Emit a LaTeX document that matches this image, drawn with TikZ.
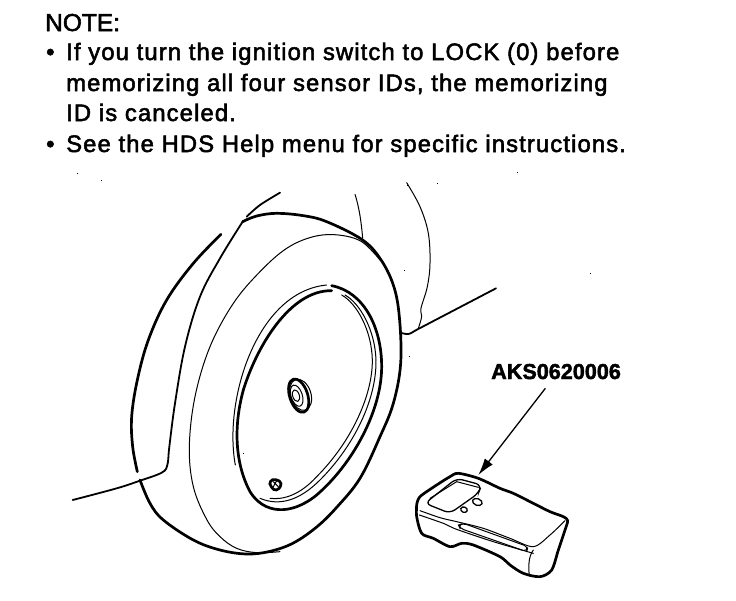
\documentclass[tikz,border=0pt]{standalone}
\usepackage{fontspec}
\setmainfont[FakeBold=2.2,LetterSpace=4.75]{Liberation Sans}
\newfontfamily\headfont[FakeBold=2.2]{Liberation Sans}
\newfontfamily\boldlabel[FakeBold=2]{Liberation Sans Bold}
\usetikzlibrary{arrows.meta}
\tikzset{
  note/.style={anchor=base west,inner sep=0pt,font=\fontsize{23.8}{26}\selectfont},
  head/.style={anchor=base west,inner sep=0pt,font=\headfont\fontsize{24.5}{26}\selectfont},
  partlabel/.style={anchor=base west,inner sep=0pt,font=\boldlabel\fontsize{21.6}{24}\selectfont},
  heavy/.style={line width=2.7pt,line join=round,line cap=round},
  medium/.style={line width=1.8pt,line join=round,line cap=round},
  fine/.style={line width=1pt,line join=round,line cap=round},
  zoomA/.style={shift={(60,170)},scale=0.33333},
  zoomB/.style={shift={(400,350)},scale=0.33333},
  speck/.style={fill=black,draw=none},
}
\begin{document}
\begin{tikzpicture}[x=1pt,y=-1pt]
\useasboundingbox (0,0) rectangle (736,600);
\fill[white] (0,0) rectangle (736,600);
% text
\node[head] (n0) at (45,31) {NOTE:};
\node[note] (b1) at (46,60) {•};
\node[note] (n1) at (66,60) {If you turn the ignition switch to LOCK (0) before};
\node[note] (n2) at (66,91) {memorizing all four sensor IDs, the memorizing};
\node[note] (n3) at (66,121) {ID is canceled.};
\node[note] (b2) at (46,152) {•};
\node[note] (n4) at (66,152) {See the HDS Help menu for specific instructions.};
\node[partlabel] (lbl) at (491,379) {AKS0620006};
% tyre
\begin{scope}[zoomA]
\draw[heavy] plot[smooth,tension=0.6] coordinates {(548,155) (590,138) (650,130) (730,137) (800,155) (905,208) (960,265) (1000,345) (1018,440) (1022,580) (1000,700) (960,800) (900,925) (831,1011) (770,1071) (700,1119) (630,1144) (560,1152) (480,1140) (400,1110) (310,1050) (270,1000) (240,930)};
\draw[heavy] plot[smooth,tension=0.6] coordinates {(483,193) (400,280) (320,390) (265,510) (232,630) (215,740) (218,830) (232,905)};
\draw[medium] plot[smooth,tension=0.6] coordinates {(38,990) (170,955) (240,932) (305,908) (322,885) (328,830) (345,700) (375,530) (420,380) (480,265) (548,155)};
\draw[medium] plot[smooth] coordinates {(560,140) (600,105) (660,68)};
\draw[fine] plot[smooth,tension=0.6] coordinates {(960,270) (905,215) (835,195) (760,200) (680,235) (600,305) (520,400) (450,530) (405,680) (388,830) (400,950) (440,1048) (480,1100) (530,1135) (590,1148) (660,1145)};
\draw[fine] (885,73) .. controls (900,120) and (905,170) .. (908,205);
% rim
\draw[fine] (526,885) .. controls (490,690) and (590,365) .. (800,345);
\draw[heavy] (815,362) .. controls (690,360) and (590,530) .. (550,660) .. controls (520,770) and (525,880) .. (570,965) .. controls (610,1030) and (690,1040) .. (770,975) .. controls (880,880) and (965,720) .. (965,590) .. controls (965,470) and (910,365) .. (815,347);
\draw[fine] (600,985) .. controls (660,1010) and (720,990) .. (780,930) .. controls (880,830) and (950,690) .. (948,570) .. controls (945,480) and (900,400) .. (855,375);
\draw[fine] (630,985) .. controls (670,990) and (720,975) .. (770,920) .. controls (870,820) and (938,680) .. (937,570) .. controls (935,480) and (890,400) .. (845,375);
% hub
\draw[heavy,rotate around={18:(716,677)}] (716,677) ellipse (27 and 52);
\draw[fine,rotate around={18:(720,675)}] (722,675) ellipse (31 and 48);
\draw[fine,rotate around={18:(710,677)}] (710,677) ellipse (17 and 33);
\draw[fine,rotate around={18:(708,677)}] (708,677) ellipse (10 and 18);
% valve
\draw[heavy,rounded corners=4pt] (627,932) -- (648,926) -- (668,940) -- (650,965) -- (632,952) -- cycle;
\draw[fine] (640,935) -- (655,950) (650,932) -- (640,950);
\end{scope}
% fender
\begin{scope}[shift={(340,170)},scale=0.33333]
\draw[fine] plot[smooth,tension=0.6] coordinates {(200,38) (240,110) (265,190) (270,280) (262,350) (243,415) (245,440) (235,475)};
\draw[medium] plot[smooth,tension=0.6] coordinates {(180,488) (205,492) (225,482)};
\draw[medium] (225,482) -- (468,355);
\end{scope}
% tool
\begin{scope}[zoomB]
\draw[heavy] plot[smooth,tension=0.5] coordinates {(50,465) (60,440) (110,405) (150,380) (175,370) (235,385) (300,415) (340,430) (400,460) (450,485) (490,500) (503,512) (495,540) (475,600) (455,660) (420,680) (370,670) (330,645) (300,620) (220,585) (185,580) (150,590) (100,565) (65,550) (50,500) (50,465)};
\draw[fine] plot[smooth,tension=0.5] coordinates {(60,482) (120,503) (170,515) (250,535) (330,565) (400,590) (450,555) (495,512)};
\draw[fine] plot[smooth,tension=0.5] coordinates {(58,495) (130,520) (170,538) (280,575) (400,610)};
\draw[fine] (400,600) .. controls (385,620) and (385,650) .. (388,678);
\draw[line width=1.3pt,rounded corners=6pt] (75,460) -- (170,385) -- (245,405) -- (235,430) -- (150,490) -- cycle;
\draw[fine] (90,445) -- (170,395) -- (235,412);
\draw[line width=1.3pt,rotate around={-20:(232,456)}] (232,456) ellipse (15 and 10);
\draw[line width=1.3pt,rotate around={-20:(192,479)}] (192,479) ellipse (10 and 8);
\draw[fine,rounded corners=4pt] (175,525) -- (190,520) -- (384,590) -- (380,605) -- (180,535) -- cycle;
\coordinate (tip) at (235,375);
\coordinate (foot) at (436,115);
\end{scope}
\draw[line width=1.3pt,-{Latex[length=17pt,width=10pt]}] (foot) -- (tip);
% specks
\foreach \x/\y in {77/173,101/180,407/185,404/270,409/356,437/183,517/172,243/453,590/273}
  \fill[speck] (\x,\y) rectangle +(1,1);
\end{tikzpicture}
\end{document}
